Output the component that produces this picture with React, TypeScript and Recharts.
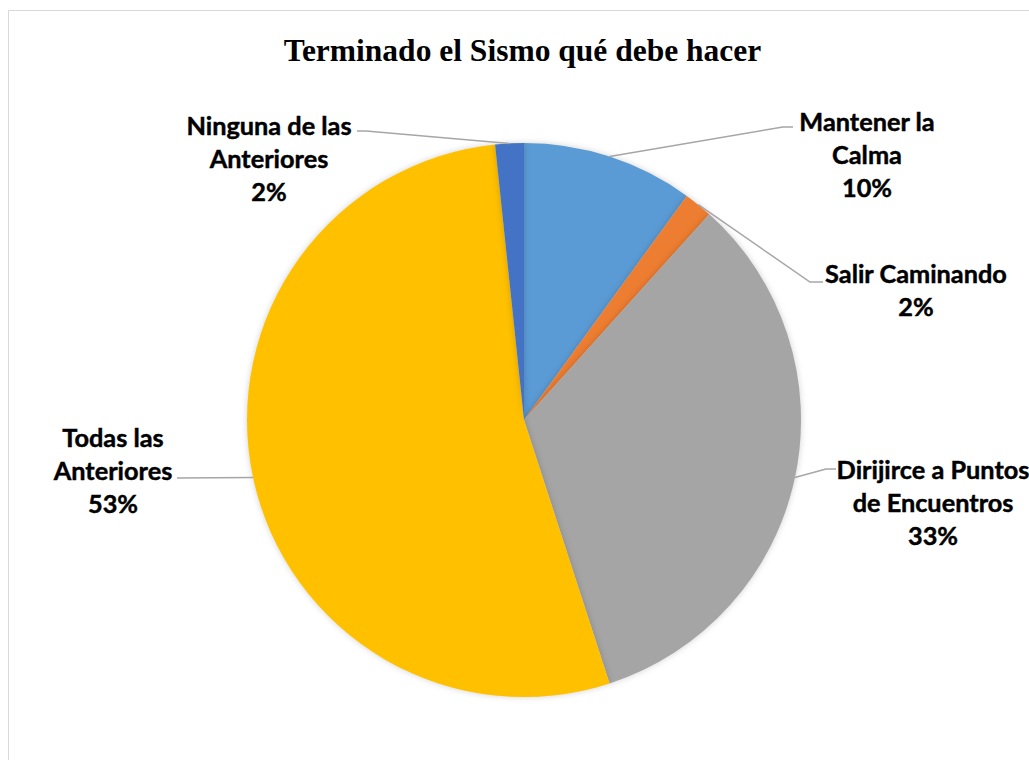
import React from "react";
import { PieChart, Pie, Cell } from "recharts";

const categories = [
  "Mantener la Calma",
  "Salir Caminando",
  "Dirijirce a Puntos de Encuentros",
  "Todas las Anteriores",
  "Ninguna de las Anteriores",
];
const counts = [6, 1, 20, 32, 1];
const labelLines = [
  ["Mantener la", "Calma"],
  ["Salir Caminando"],
  ["Dirijirce a Puntos", "de Encuentros"],
  ["Todas las", "Anteriores"],
  ["Ninguna de las", "Anteriores"],
];
const colors = ["#5B9BD5", "#ED7D31", "#A5A5A5", "#FFC000", "#4472C4"];
const title = "Terminado el Sismo qué debe hacer";

const data = categories.map((name, i) => ({ name, value: counts[i] }));

// label layout: text center x, first-line center y, leader elbow, leader end
const labelLayout = [
  { x: 867, y: 122, ex: 783, ey: 127, tx: 793, ty: 127 },
  { x: 916, y: 274, ex: 810, ey: 282, tx: 823, ty: 282 },
  { x: 933, y: 470, ex: 826, ey: 469, tx: 836, ty: 469 },
  { x: 113, y: 438, ex: 177, ey: 478, tx: 177, ty: 478 },
  { x: 269, y: 126, ex: 366, ey: 131, tx: 357, ty: 131 },
];

const RAD = Math.PI / 180;
const FS = 25.3;
const LH = 33;

const renderLabel = (props: any) => {
  const { cx, cy, midAngle, outerRadius, index, percent } = props;
  const L = labelLayout[index];
  const px = cx + outerRadius * Math.cos(-midAngle * RAD);
  const py = cy + outerRadius * Math.sin(-midAngle * RAD);
  const lines = [...labelLines[index], `${Math.round(percent * 100)}%`];
  return (
    <g key={`lab-${index}`}>
      <polyline
        points={`${px},${py} ${L.ex},${L.ey} ${L.tx},${L.ty}`}
        fill="none"
        stroke="#A6A6A6"
        strokeWidth={1.5}
      />
      <text
        x={L.x}
        y={L.y + FS * 0.36}
        textAnchor="middle"
        fontFamily="Lato, 'Open Sans', sans-serif"
        fontWeight={700}
        fontSize={FS}
        fill="#000"
        stroke="#000"
        strokeWidth={0.45}
      >
        {lines.map((t, i) => (
          <tspan key={i} x={L.x} y={L.y + FS * 0.36 + i * LH}>
            {t}
          </tspan>
        ))}
      </text>
    </g>
  );
};

export default function App() {
  return (
    <div style={{ position: "fixed", left: 0, top: 0, width: 1029, height: 760, overflow: "hidden", background: "#fff" }}>
      <style>{`.recharts-pie-sector path{filter: drop-shadow(0px 0px 3px rgba(0,0,0,0.18));}`}</style>
      <div
        style={{
          position: "absolute",
          left: 8,
          top: 10,
          width: 1040,
          height: 780,
          border: "1.5px solid #D9D9D9",
          boxSizing: "border-box",
        }}
      />
      <div
        style={{
          position: "absolute",
          left: 0,
          width: 1045,
          top: 33,
          textAlign: "center",
          fontFamily: "'Liberation Serif', 'Times New Roman', serif",
          fontWeight: 700,
          fontSize: 31.5,
          lineHeight: "36px",
          whiteSpace: "nowrap",
        }}
      >
        {title}
      </div>
      <div style={{ position: "absolute", left: 0, top: 0 }}>
        <PieChart width={1029} height={760} margin={{ top: 0, right: 0, bottom: 0, left: 0 }}>
          <Pie
            data={data}
            dataKey="value"
            nameKey="name"
            cx={524}
            cy={420}
            outerRadius={277}
            startAngle={90}
            endAngle={-270}
            stroke="none"
            label={renderLabel}
            labelLine={false}
            isAnimationActive={false}
          >
            {data.map((d, i) => (
              <Cell key={d.name} fill={colors[i]} />
            ))}
          </Pie>
        </PieChart>
      </div>
    </div>
  );
}
